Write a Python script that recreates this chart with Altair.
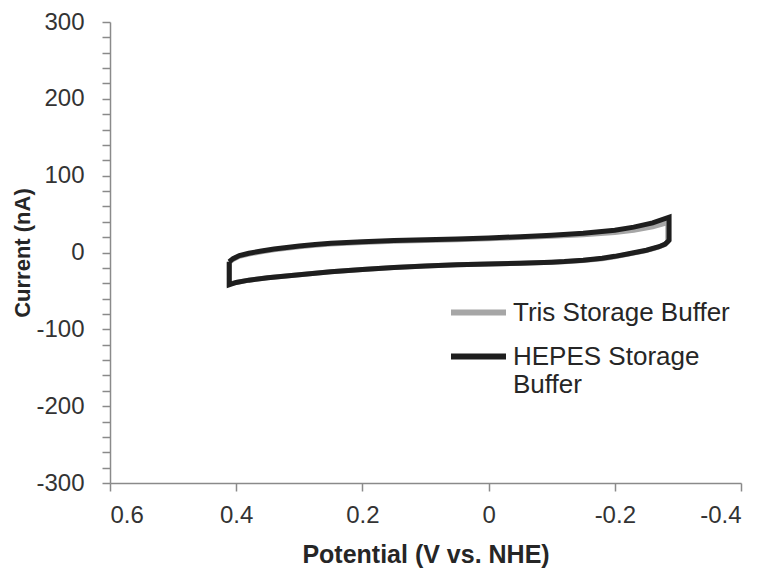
import altair as alt
import pandas as pd

# HEPES Storage Buffer loop (potential V vs NHE, current nA), in drawing order
hepes_v = [0.411, 0.405, 0.395, 0.380, 0.360, 0.340, 0.320, 0.300, 0.275, 0.250, 0.200, 0.150, 0.100, 0.050,
           0.000, -0.050, -0.100, -0.150, -0.200, -0.230, -0.260, -0.286,
           -0.286, -0.280, -0.270, -0.250, -0.220, -0.200, -0.180, -0.150, -0.120, -0.100, -0.050, 0.000,
           0.050, 0.100, 0.150, 0.200, 0.250, 0.300, 0.350, 0.380, 0.400, 0.411, 0.411]
hepes_i = [-12, -8, -4, -1, 2, 4.5, 6.5, 8.5, 10.5, 12, 14, 15.5, 16.5, 17.5,
           19, 20.5, 22.5, 25, 29, 33, 38.5, 46,
           16, 11, 7.5, 3, -2, -5, -7.5, -10, -11.8, -12.6, -14, -15,
           -16, -17.5, -19.5, -22, -25, -29, -33, -36, -39, -42, -12]

# Tris Storage Buffer loop
tris_v = [0.411, 0.405, 0.395, 0.380, 0.360, 0.340, 0.320, 0.300, 0.275, 0.250, 0.200, 0.150, 0.100, 0.050,
          0.000, -0.050, -0.100, -0.150, -0.200, -0.230, -0.260, -0.284,
          -0.284, -0.278, -0.268, -0.250, -0.220, -0.200, -0.180, -0.150, -0.120, -0.100, -0.050, 0.000,
          0.050, 0.100, 0.150, 0.200, 0.250, 0.300, 0.350, 0.380, 0.400, 0.411, 0.411]
tris_i = [-13, -9, -5, -2, 1, 3.5, 5.5, 7.5, 9.5, 11, 13, 14.5, 15.5, 16.5,
          18, 19.5, 21, 23, 26, 29, 33.5, 39,
          14, 10, 6.5, 2.5, -2.5, -5.5, -8, -10.5, -12, -12.8, -14, -15,
          -16, -17.5, -19.5, -22, -25, -29, -33, -36, -39, -41, -13]

series_names = ["Tris Storage Buffer", "HEPES Storage Buffer"]
series_colors = ["#a6a6a6", "#1e1e1e"]

x_ticks = [0.6, 0.4, 0.2, 0, -0.2, -0.4]
y_ticks = list(range(-300, 301, 20))

def frame(v, i, name):
    return pd.DataFrame({"v": v, "i": i, "series": name, "k": list(range(len(v)))})

df_tris = frame(tris_v, tris_i, series_names[0])
df_hepes = frame(hepes_v, hepes_i, series_names[1])

FONT = "Liberation Sans"

x_enc = alt.X("v:Q",
              scale=alt.Scale(domain=[-0.4, 0.6], reverse=True, nice=False),
              axis=alt.Axis(values=x_ticks, labelExpr="'' + datum.value",
                            title="Potential (V vs. NHE)", titleY=71, titleBaseline="middle",
                            labelPadding=12))
y_enc = alt.Y("i:Q",
              scale=alt.Scale(domain=[-300, 300], nice=False),
              axis=alt.Axis(values=y_ticks,
                            labelExpr="datum.value % 100 == 0 ? '' + datum.value : ''",
                            labelOverlap=False, labelPadding=18,
                            title="Current (nA)", titleX=-88, titleBaseline="middle"))
color_enc = alt.Color("series:N",
                      scale=alt.Scale(domain=series_names, range=series_colors),
                      legend=alt.Legend(title=None, orient="none", legendX=338, legendY=260,
                                        symbolType="stroke", symbolSize=3025, symbolStrokeWidth=6,
                                        labelFont=FONT, labelFontSize=26, labelColor="#262626",
                                        labelLimit=500, labelOffset=4, rowPadding=-19, padding=0,
                                        labelExpr="datum.label == 'HEPES Storage Buffer' ? ['HEPES Storage', 'Buffer'] : datum.label"))

tris = alt.Chart(df_tris).mark_line(strokeWidth=5, strokeJoin="miter").encode(
    x=x_enc, y=y_enc, color=color_enc, order="k:Q")
hepes = alt.Chart(df_hepes).mark_line(strokeWidth=5, strokeJoin="miter").encode(
    x=x_enc, y=y_enc, color=color_enc, order="k:Q")

chart = alt.layer(tris, hepes).properties(
    width=631, height=461,
    autosize=alt.AutoSizeParams(type="none"),
    padding={"left": 102, "top": 14, "right": 20, "bottom": 86},
).configure_view(stroke=None).configure_axis(
    grid=False,
    domainColor="#8a8a8a", domainWidth=1.5,
    tickColor="#8a8a8a", tickWidth=1.5, tickSize=8,
    labelFont=FONT, labelFontSize=24, labelColor="#333333",
    titleFont=FONT, titleFontWeight="bold", titleColor="#262626",
).configure_axisX(titleFontSize=25).configure_axisY(titleFontSize=22)

chart.save("out.html", embed_options={"renderer": "svg", "actions": False})
